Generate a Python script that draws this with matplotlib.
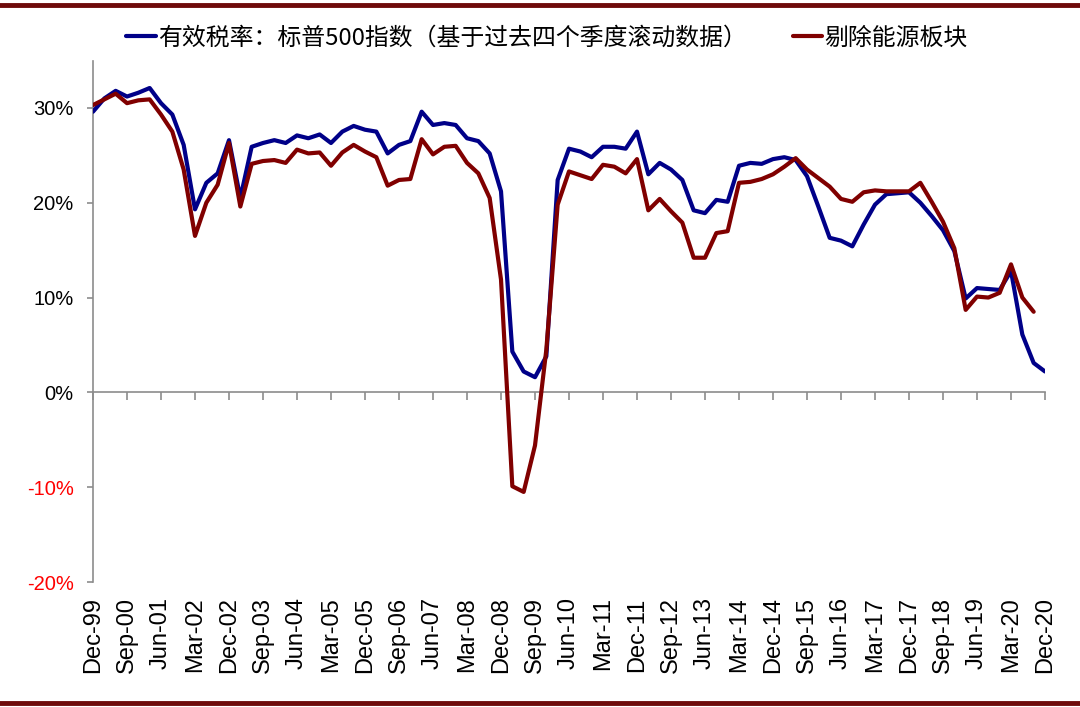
import matplotlib
matplotlib.use("Agg")
import matplotlib.pyplot as plt
from matplotlib.lines import Line2D
from matplotlib.font_manager import FontProperties
import numpy as np

# ---- data (quarterly, Dec-99 .. Dec-20) ----
tick_labels = ["Dec-99", "Sep-00", "Jun-01", "Mar-02", "Dec-02", "Sep-03", "Jun-04",
               "Mar-05", "Dec-05", "Sep-06", "Jun-07", "Mar-08", "Dec-08", "Sep-09",
               "Jun-10", "Mar-11", "Dec-11", "Sep-12", "Jun-13", "Mar-14", "Dec-14",
               "Sep-15", "Jun-16", "Mar-17", "Dec-17", "Sep-18", "Jun-19", "Mar-20",
               "Dec-20"]

sp500_rate = [
    29.6, 31.0, 31.8, 31.2, 31.6, 32.1, 30.5, 29.3, 26.1, 19.3,
    22.1, 23.1, 26.6, 20.5, 25.9, 26.3, 26.6, 26.3, 27.1, 26.8,
    27.2, 26.3, 27.5, 28.1, 27.7, 27.5, 25.2, 26.1, 26.5, 29.6,
    28.2, 28.4, 28.2, 26.8, 26.5, 25.2, 21.2, 4.3, 2.2, 1.6,
    3.8, 22.4, 25.7, 25.4, 24.8, 25.9, 25.9, 25.7, 27.5, 23.0,
    24.2, 23.5, 22.4, 19.2, 18.9, 20.3, 20.1, 23.9, 24.2, 24.1,
    24.6, 24.8, 24.5, 22.8, 19.6, 16.3, 16.0, 15.4, 17.7, 19.8,
    20.9, 21.0, 21.1, 20.0, 18.6, 17.1, 14.9, 9.9, 11.0, 10.9,
    10.8, 12.8, 6.1, 3.1, 2.2]

ex_energy_rate = [
    30.3, 30.9, 31.5, 30.5, 30.8, 30.9, 29.3, 27.5, 23.5, 16.5,
    20.0, 21.9, 26.3, 19.6, 24.1, 24.4, 24.5, 24.2, 25.6, 25.2,
    25.3, 23.9, 25.3, 26.1, 25.4, 24.8, 21.8, 22.4, 22.5, 26.7,
    25.1, 25.9, 26.0, 24.2, 23.1, 20.5, 11.9, -9.9, -10.5, -5.6,
    4.5, 19.8, 23.3, 22.9, 22.5, 24.0, 23.8, 23.1, 24.6, 19.2,
    20.4, 19.1, 17.9, 14.2, 14.2, 16.8, 17.0, 22.1, 22.2, 22.5,
    23.0, 23.8, 24.7, 23.5, 22.6, 21.7, 20.4, 20.1, 21.1, 21.3,
    21.2, 21.2, 21.2, 22.1, 20.1, 18.0, 15.2, 8.7, 10.1, 10.0,
    10.5, 13.5, 10.0, 8.5]

series_names = ["有效税率：标普500指数（基于过去四个季度滚动数据）", "剔除能源板块"]
y_ticks = [-20, -10, 0, 10, 20, 30]

# ---- style ----
BLUE = "#000088"
RED = "#800000"
GREY = "#8C8C8C"
BAR = "#6E0A0A"

fig = plt.figure(figsize=(10.8, 7.07), dpi=100)
W, H = 1080, 707
ax = fig.add_axes([93 / W, (H - 582) / H, (1045 - 93) / W, (582 - 60.5) / H])

x_blue = np.arange(len(sp500_rate))
x_red = np.arange(len(ex_energy_rate))
l1, = ax.plot(x_blue, sp500_rate, color=BLUE, lw=3.0, solid_joinstyle="round",
              solid_capstyle="round", zorder=3)
l2, = ax.plot(x_red, ex_energy_rate, color=RED, lw=3.0, solid_joinstyle="round",
              solid_capstyle="round", zorder=4)

ax.set_xlim(0, len(sp500_rate) - 1)
ax.set_ylim(-20, 35)

for s in ["right", "bottom"]:
    ax.spines[s].set_visible(False)
ax.spines["left"].set_color(GREY)
ax.spines["left"].set_linewidth(1.2)
ax.spines["top"].set_position(("data", 0))
ax.spines["top"].set_color(GREY)
ax.spines["top"].set_linewidth(1.2)

ax.tick_params(axis="y", direction="out", length=4, width=1.2, color=GREY, pad=10)
ax.tick_params(axis="x", bottom=False, top=True, labelbottom=True, labeltop=False,
               direction="in", length=6, width=1.2, color=GREY, pad=11,
               labelrotation=90)

ax.set_yticks(y_ticks)
ax.set_yticklabels([f"{v}%" for v in y_ticks])
yfont = FontProperties(family=["Liberation Sans Narrow", "Liberation Sans"], size=14.5)
for lab, v in zip(ax.get_yticklabels(), y_ticks):
    lab.set_fontproperties(yfont)
    lab.set_color("#FF0000" if v < 0 else "black")

ax.set_xticks(np.arange(0, len(sp500_rate), 3))
ax.set_xticklabels(tick_labels)
xfont = FontProperties(family=["Liberation Sans"], size=17)
for lab in ax.get_xticklabels():
    lab.set_fontproperties(xfont)
    lab.set_rotation(90)

# legend
fig.legend([l1, l2], series_names, loc="center", bbox_to_anchor=(547 / W, 1 - 38 / H),
           ncol=2, frameon=False, handlelength=1.25, handletextpad=0.08,
           columnspacing=1.9, prop=FontProperties(family=["Noto Sans CJK SC", "DejaVu Sans"], size=17.2))

# decorative bars at top and bottom
fig.add_artist(Line2D([0, 1], [1 - 5 / H, 1 - 5 / H], transform=fig.transFigure, color=BAR, lw=3.5))
fig.add_artist(Line2D([0, 1], [4 / H, 4 / H], transform=fig.transFigure, color=BAR, lw=3.5))

fig.savefig("out.png", dpi=100)
